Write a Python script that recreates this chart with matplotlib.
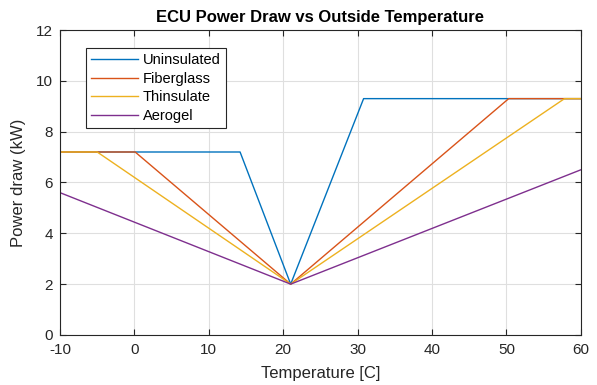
import matplotlib.pyplot as plt

plt.rcParams['font.family'] = ['Liberation Sans', 'DejaVu Sans']
plt.rcParams['axes.unicode_minus'] = False

# breakpoints (temperature in C, power in kW)
uninsulated_t = [-10, 14.2, 21, 30.8, 60]
uninsulated_p = [7.2, 7.2, 2.0, 9.3, 9.3]
fiberglass_t = [-10, 0.1, 21, 50.3, 60]
fiberglass_p = [7.2, 7.2, 2.0, 9.3, 9.3]
thinsulate_t = [-10, -5.0, 21, 57.8, 60]
thinsulate_p = [7.2, 7.2, 2.0, 9.3, 9.3]
aerogel_t = [-10, 21, 60]
aerogel_p = [5.6, 2.0, 6.5]

fig = plt.figure(figsize=(5.97, 3.85), dpi=100)
ax = fig.add_axes([0.1005, 0.13, 0.8725, 0.792])

ax.plot(uninsulated_t, uninsulated_p, color='#0072BD', lw=1, label='Uninsulated')
ax.plot(fiberglass_t, fiberglass_p, color='#D95319', lw=1, label='Fiberglass')
ax.plot(thinsulate_t, thinsulate_p, color='#EDB120', lw=1, label='Thinsulate')
ax.plot(aerogel_t, aerogel_p, color='#7E2F8E', lw=1, label='Aerogel')

ax.set_xlim(-10, 60)
ax.set_ylim(0, 12)
ax.set_xticks(range(-10, 61, 10))
ax.set_yticks(range(0, 13, 2))
ax.grid(True, color='#dfdfdf', lw=0.8)
ax.set_axisbelow(True)
ax.tick_params(direction='in', top=True, right=True, labelsize=11, colors='#262626', length=4)
ax.tick_params(axis='x', pad=6)
ax.tick_params(axis='y', pad=5)
for s in ax.spines.values():
    s.set_color('#262626')
    s.set_linewidth(0.8)

ax.set_xlabel('Temperature [C]', fontsize=12, color='#262626', labelpad=6)
ax.set_ylabel('Power draw (kW)', fontsize=12, color='#262626', labelpad=7)
ax.set_title('ECU Power Draw vs Outside Temperature', fontsize=12, fontweight='bold', pad=6)

leg = ax.legend(loc='upper left', bbox_to_anchor=(0.05, 0.941), borderaxespad=0, fontsize=10.5,
                fancybox=False, framealpha=1, edgecolor='#262626',
                handlelength=3.2, handletextpad=0.35, borderpad=0.35, labelspacing=0.32)
leg.get_frame().set_linewidth(0.8)

fig.savefig('out.png', dpi=100)
